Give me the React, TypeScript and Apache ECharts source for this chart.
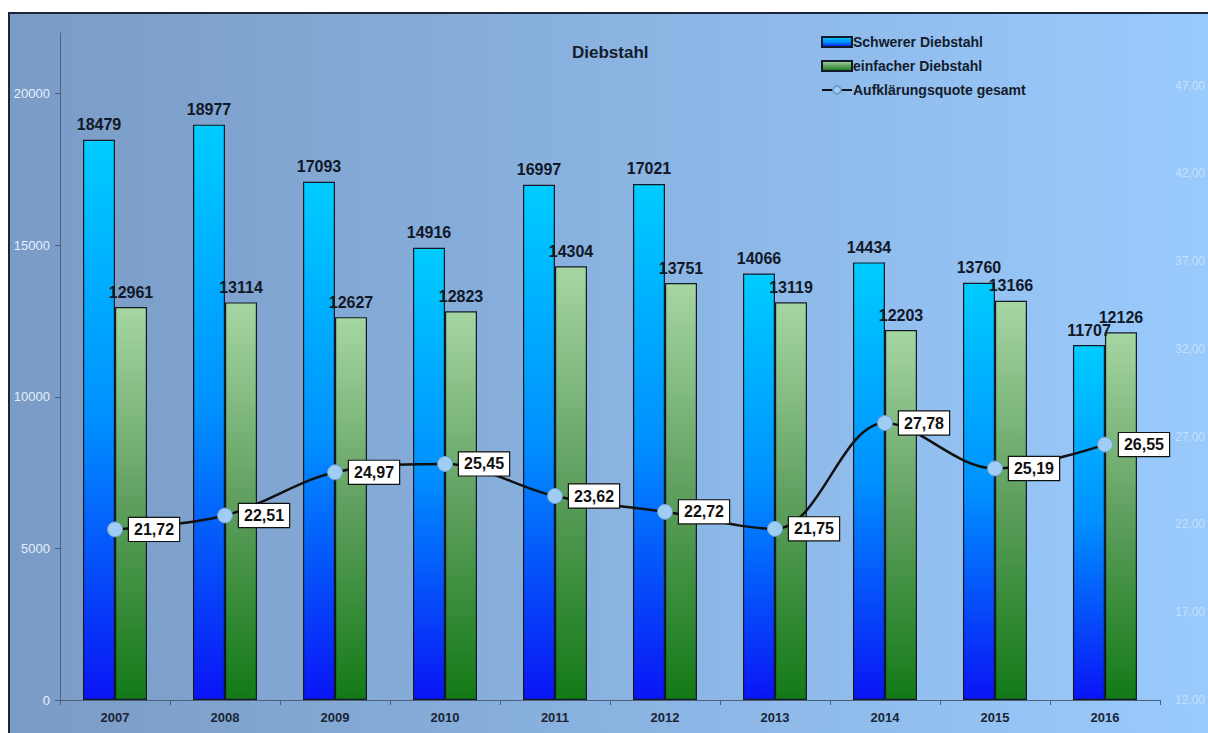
import React, { useEffect, useRef } from 'react';
import * as echarts from 'echarts';

const years = ['2007', '2008', '2009', '2010', '2011', '2012', '2013', '2014', '2015', '2016'];
const schwererDiebstahl = [18479, 18977, 17093, 14916, 16997, 17021, 14066, 14434, 13760, 11707];
const einfacherDiebstahl = [12961, 13114, 12627, 12823, 14304, 13751, 13119, 12203, 13166, 12126];
const aufklaerungsquote = [21.72, 22.51, 24.97, 25.45, 23.62, 22.72, 21.75, 27.78, 25.19, 26.55];

const FONT = '"Liberation Sans", Arial, sans-serif';
const fmt = (v: number) => v.toFixed(2).replace('.', ',');

export default function App() {
  const ref = useRef<HTMLDivElement>(null);
  useEffect(() => {
    document.body.style.margin = '0';
    const chart = echarts.init(ref.current!, null, { renderer: 'svg' });
    const blue = new echarts.graphic.LinearGradient(0, 0, 0, 1, [
      { offset: 0, color: '#00ccff' },
      { offset: 0.5, color: '#0090ff' },
      { offset: 1, color: '#0a14f5' },
    ]);
    const green = new echarts.graphic.LinearGradient(0, 0, 0, 1, [
      { offset: 0, color: '#a6d6a2' },
      { offset: 0.5, color: '#5f9f5e' },
      { offset: 1, color: '#137a16' },
    ]);
    chart.setOption({
      animation: false,
      backgroundColor: '#ffffff',
      textStyle: { fontFamily: FONT },
      graphic: [
        {
          type: 'rect',
          z: -10,
          silent: true,
          shape: { x: 9, y: 13, width: 1210, height: 730 },
          style: {
            fill: new echarts.graphic.LinearGradient(0, 0, 1, 0, [
              { offset: 0, color: '#7a9bc5' },
              { offset: 1, color: '#9acbfd' },
            ]),
            stroke: '#1b2535',
            lineWidth: 2,
          },
        },
        {
          type: 'text',
          left: 572,
          top: 44,
          style: {
            text: 'Diebstahl',
            font: `bold 17px ${FONT}`,
            fill: '#141c2c',
          },
        },
      ],
      legend: {
        orient: 'vertical',
        left: 816,
        top: 30,
        itemGap: 10,
        itemWidth: 30,
        itemHeight: 10,
        textStyle: { fontFamily: FONT, fontWeight: 'bold', fontSize: 14, color: '#141c2c', padding: [0, 0, 0, -4] },
        data: [
          { name: 'Schwerer Diebstahl', icon: 'rect' },
          { name: 'einfacher Diebstahl', icon: 'rect' },
          { name: 'Aufklärungsquote gesamt' },
        ],
      },
      grid: { left: 60, right: 43, top: 33, bottom: 33, containLabel: false },
      xAxis: {
        type: 'category',
        data: years,
        axisLine: { lineStyle: { color: '#4d6079', width: 1 } },
        axisTick: { show: true, length: 5, lineStyle: { color: '#4d6079' } },
        axisLabel: { fontFamily: FONT, fontWeight: 'bold', fontSize: 13, color: '#1a2536', margin: 11 },
      },
      yAxis: [
        {
          type: 'value',
          min: 0,
          max: 22000,
          interval: 5000,
          splitLine: { show: false },
          axisLine: { show: true, lineStyle: { color: '#4d6079' } },
          axisTick: { show: true, length: 5, lineStyle: { color: '#4d6079' } },
          axisLabel: {
            showMaxLabel: false,
            color: '#e6efff',
            fontSize: 13,
            fontFamily: FONT,
            margin: 10,
            formatter: (v: number) => String(v),
          },
        },
        {
          type: 'value',
          min: 12,
          max: 50,
          interval: 5,
          position: 'right',
          splitLine: { show: false },
          axisLine: { show: false },
          axisTick: { show: false },
          axisLabel: {
            showMaxLabel: false,
            color: 'rgba(235,242,255,0.55)',
            fontSize: 12,
            fontFamily: FONT,
            margin: 15,
            formatter: (v: number) => fmt(v),
          },
        },
      ],
      series: [
        {
          name: 'Schwerer Diebstahl',
          type: 'bar',
          data: schwererDiebstahl,
          barWidth: 32,
          barGap: '0%',
          itemStyle: { color: blue, borderColor: '#111a26', borderWidth: 1.2 },
          label: {
            show: true,
            position: 'top',
            distance: 7,
            fontFamily: FONT,
            fontWeight: 'bold',
            fontSize: 16,
            color: '#111827',
          },
        },
        {
          name: 'einfacher Diebstahl',
          type: 'bar',
          data: einfacherDiebstahl,
          barWidth: 32,
          barGap: '0%',
          itemStyle: { color: green, borderColor: '#111a26', borderWidth: 1.2 },
          label: {
            show: true,
            position: 'top',
            distance: 7,
            fontFamily: FONT,
            fontWeight: 'bold',
            fontSize: 16,
            color: '#111827',
          },
        },
        {
          name: 'Aufklärungsquote gesamt',
          type: 'line',
          yAxisIndex: 1,
          data: aufklaerungsquote,
          smooth: 0.35,
          z: 5,
          symbol: 'circle',
          symbolSize: 15,
          lineStyle: { color: '#111111', width: 2.5 },
          itemStyle: { color: '#9fcdf3', borderColor: '#6f9fcf', borderWidth: 1 },
          label: {
            show: true,
            position: 'right',
            distance: 6,
            formatter: (p: any) => fmt(p.value),
            fontFamily: FONT,
            fontWeight: 'bold',
            fontSize: 16,
            color: '#111111',
            backgroundColor: '#ffffff',
            borderColor: '#111111',
            borderWidth: 1.2,
            padding: [4, 5, 3, 5],
          },
        },
      ],
    });
    return () => chart.dispose();
  }, []);
  return <div ref={ref} style={{ width: 1208, height: 733, background: '#fff' }} />;
}
